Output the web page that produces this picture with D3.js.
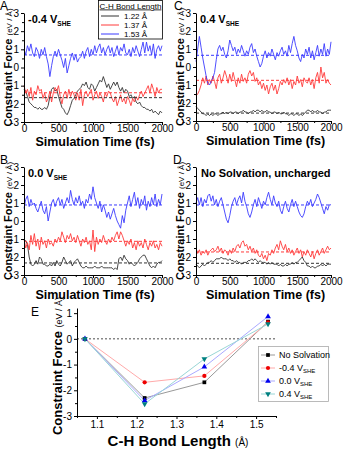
<!DOCTYPE html>
<html>
<head>
<meta charset="utf-8">
<script src="https://cdn.jsdelivr.net/npm/d3@7"></script>
<style>
  body { margin: 0; background: #fff; }
  svg { font-family: "Liberation Sans", Arial, sans-serif; }
</style>
</head>
<body>
<svg id="chart" width="344" height="450"></svg>
<script>
// constraint force vs time, sampled every 25 fs (0..2000), read off the figure
// panel A: -0.4 V_SHE
const A_122 = [-1.2, -1.3, -1.6, -1.9, -2.0, -2.1, -2.2, -2.2, -2.3, -2.2,
  -2.3, -2.3, -2.2, -2.3, -2.1, -1.6, -1.2, -1.1, -1.3, -1.2,
  -1.6, -1.9, -2.2, -2.3, -2.5, -2.6, -2.4, -2.1, -1.8, -1.7,
  -1.5, -1.3, -1.2, -1.1, -0.9, -1.0, -0.8, -1.1, -1.2, -0.9,
  -1.0, -1.3, -1.1, -0.9, -0.7, -0.8, -0.5, -0.8, -1.1, -0.9,
  -1.2, -1.0, -0.8, -1.0, -0.8, -1.1, -1.3, -1.1, -1.4, -1.2,
  -1.3, -1.6, -1.5, -1.7, -1.6, -1.9, -2.0, -1.9, -2.1, -2.2,
  -2.2, -2.3, -2.3, -2.4, -2.3, -2.5, -2.4, -2.5, -2.6, -2.4, -2.5];
const A_137 = [-1.0, -1.4, -1.2, -1.6, -1.1, -1.8, -1.3, -1.5, -1.0, -1.3,
  -1.2, -1.7, -1.4, -1.9, -1.7, -1.3, -1.9, -1.4, -1.1, -1.3,
  -1.0, -1.6, -2.0, -1.5, -1.3, -1.7, -1.2, -1.6, -1.3, -1.5,
  -1.8, -1.4, -1.8, -1.2, -2.1, -1.5, -1.3, -1.6, -1.4, -1.2,
  -1.8, -1.5, -1.3, -1.7, -1.4, -1.6, -1.9, -1.4, -1.6, -1.3,
  -1.4, -1.7, -1.9, -1.6, -2.1, -1.8, -1.5, -1.9, -1.7, -2.0,
  -1.6, -1.8, -2.1, -1.7, -1.9, -1.6, -1.8, -1.5, -1.3, -1.6,
  -1.4, -1.2, -1.0, -1.4, -0.9, -1.2, -1.6, -1.1, -1.4, -1.2, -1.2];
const A_153 = [1.0, 0.7, 1.2, 0.9, 1.3, 0.8, 0.6, 1.1, 0.9, 0.5,
  1.0, 0.7, 1.1, 0.6, 0.2, -0.5, 0.1, 0.6, 0.9, 0.6,
  1.0, 0.7, 0.4, 0.0, 0.5, -0.3, 0.1, 0.5, 0.8, 0.4,
  0.7, 0.3, 0.5, 0.6, 0.9, 0.5, 0.9, 1.1, 0.6, 1.0,
  0.7, 1.2, 0.8, 1.1, 1.3, 0.8, 1.1, 0.7, 1.0, 1.2,
  0.8, 1.1, 0.6, 0.9, 1.2, 0.7, 1.1, 0.9, 1.3, 0.8,
  0.7, 1.0, 0.6, 1.1, 0.8, 1.2, 0.9, 0.6, 1.0, 1.4,
  0.8, 1.4, 0.9, 1.2, 0.7, 1.3, 0.5, 1.0, 1.2, 0.9, 1.2];
const A_means = [-1.66, -1.39, 0.69];

// panel B: 0.0 V_SHE
const B_122 = [-1.0, -1.1, -1.3, -2.0, -2.4, -2.5, -2.4, -2.2, -2.4, -2.0,
  -2.1, -2.4, -2.4, -2.5, -2.5, -2.4, -2.5, -2.3, -2.5, -2.2,
  -2.4, -2.5, -2.3, -2.0, -2.2, -2.4, -2.3, -2.2, -2.5, -2.3,
  -2.2, -2.1, -2.3, -2.5, -2.6, -2.6, -2.5, -2.6, -2.6, -2.6,
  -2.6, -2.5, -2.6, -2.6, -2.6, -2.5, -2.6, -2.6, -2.6, -2.6,
  -2.6, -2.6, -2.7, -2.6, -2.7, -2.1, -2.0, -2.2, -1.9, -2.1,
  -2.2, -2.4, -2.3, -2.4, -2.5, -2.4, -2.3, -2.1, -2.0, -1.9,
  -1.9, -2.1, -2.3, -2.5, -2.6, -2.5, -2.6, -2.4, -2.3, -2.3, -2.2];
const B_137 = [-1.0, -1.5, -1.2, -1.6, -0.8, -1.3, -0.7, -1.4, -1.0, -1.6,
  -0.9, -1.3, -1.1, -1.5, -1.0, -1.3, -1.2, -1.4, -1.0, -1.2,
  -0.9, -1.1, -0.6, -0.9, -1.2, -0.8, -1.0, -0.7, -1.1, -0.9,
  -1.2, -0.8, -1.1, -1.4, -1.0, -1.2, -0.9, -1.3, -1.1, -1.6,
  -0.5, -1.7, -0.9, -1.3, -1.0, -1.2, -0.8, -1.1, -1.3, -1.0,
  -1.2, -0.9, -1.1, -0.8, -0.6, -1.0, -0.6, -0.8, -1.1, -1.4,
  -1.1, -1.3, -1.0, -1.5, -1.2, -1.6, -1.1, -1.4, -1.2, -1.5,
  -1.0, -1.3, -1.6, -1.2, -1.4, -1.1, -1.5, -1.3, -1.6, -1.2, -1.4];
const B_153 = [0.7, 1.2, 1.4, 0.8, 1.2, 0.9, 1.0, 0.7, 0.5, 0.8,
  1.1, 0.6, 0.4, 0.8, 0.0, 0.5, 1.0, 1.2, 0.8, 1.1,
  1.3, 0.9, 1.2, 0.7, 1.0, 1.3, 1.0, 1.7, 1.2, 0.9,
  1.3, 1.0, 1.4, 0.9, 1.1, 0.7, 1.2, 1.0, 1.5, 1.2,
  1.9, 1.3, 1.0, 0.7, 1.1, 0.5, 0.9, 0.6, 0.2, 0.5,
  0.1, 0.4, 0.7, 0.3, 0.0, -0.2, -0.4, 0.3, -0.1, 0.6,
  1.0, 1.4, 0.8, 1.2, 1.6, 0.9, 1.3, 0.7, 1.2, 0.9,
  1.4, 0.6, 1.1, 0.8, 1.3, 0.9, 1.5, 0.8, 1.2, 0.9, 1.5];
const B_means = [-2.33, -1.13, 0.89];

// panel C: 0.4 V_SHE
const C_122 = [-2.2, -2.3, -2.4, -2.5, -2.6, -2.6, -2.7, -2.6, -2.7, -2.6,
  -2.7, -2.6, -2.6, -2.7, -2.6, -2.6, -2.5, -2.6, -2.5, -2.6,
  -2.5, -2.5, -2.6, -2.5, -2.5, -2.6, -2.5, -2.5, -2.4, -2.5,
  -2.5, -2.6, -2.5, -2.5, -2.4, -2.5, -2.4, -2.4, -2.5, -2.4,
  -2.5, -2.5, -2.4, -2.5, -2.5, -2.6, -2.5, -2.5, -2.6, -2.5,
  -2.6, -2.6, -2.5, -2.6, -2.6, -2.7, -2.6, -2.6, -2.7, -2.6,
  -2.6, -2.7, -2.6, -2.7, -2.6, -2.5, -2.4, -2.4, -2.5, -2.4,
  -2.5, -2.5, -2.4, -2.5, -2.5, -2.6, -2.5, -2.5, -2.4, -2.4, -2.4];
const C_137 = [-1.6, -1.5, -1.3, -1.0, -0.6, -0.9, -0.5, -1.0, -0.7, -0.9,
  -0.5, -0.8, -1.2, -0.6, -0.4, -0.9, -0.6, -0.2, -0.5, -0.9,
  -0.4, -0.8, -0.3, -0.7, -1.1, -0.6, -0.9, -0.4, -0.8, -0.6,
  -0.9, -0.4, -0.2, -0.5, -0.3, -0.8, -0.6, -1.0, -0.8, -1.2,
  -0.9, -1.3, -1.0, -1.5, -1.1, -0.9, -1.3, -1.0, -1.5, -1.2,
  -0.8, -1.0, -0.7, -0.9, -0.6, -1.0, -0.7, -1.2, -0.8, -1.0,
  -0.5, -0.9, -0.7, -1.1, -0.6, -0.8, -0.9, -0.6, -1.0, -0.7,
  -1.2, -0.6, -0.3, -0.9, 0.0, -0.6, -0.3, -0.9, -0.7, -0.9, -1.0];
const C_153 = [0.3, 1.0, 1.7, 1.1, 0.5, 0.0, -0.5, -0.9, -1.0, -0.8,
  -0.6, -0.3, 0.4, 1.0, 1.2, 0.9, 1.1, 0.7, 0.5, 0.9,
  1.5, 1.2, 0.9, 1.1, 0.7, 1.0, 0.8, 1.2, 0.9, 0.6,
  0.9, 0.7, 1.1, 1.3, 0.8, 1.0, 0.6, 0.3, 0.0, 0.2,
  0.6, 0.9, 0.5, 0.8, 0.6, 1.0, 0.7, 0.4, 0.8, 0.6,
  0.9, 1.1, 0.7, 0.9, 0.6, 1.2, 0.8, 1.3, 1.7, 1.2,
  0.9, 0.5, 0.3, 0.7, 0.5, 1.0, 0.7, 1.1, 0.5, 0.9,
  0.4, 0.8, 1.2, 0.6, 1.0, 0.7, 1.3, 0.6, 1.0, 0.7, 1.4];
const C_means = [-2.56, -0.74, 0.65];

// panel D: no solvation, uncharged
const D_122 = [-2.4, -2.5, -2.6, -2.5, -2.4, -2.5, -2.4, -2.3, -2.3, -2.2,
  -2.3, -2.2, -2.1, -2.1, -2.1, -2.0, -2.1, -2.1, -2.1, -2.2,
  -2.1, -2.2, -2.2, -2.3, -2.2, -2.3, -2.3, -2.4, -2.3, -2.3,
  -2.3, -2.2, -2.2, -2.1, -2.2, -2.1, -2.2, -2.3, -2.2, -2.3,
  -2.3, -2.3, -2.4, -2.3, -2.4, -2.3, -2.4, -2.4, -2.4, -2.5,
  -2.4, -2.5, -2.5, -2.4, -2.5, -2.4, -2.4, -2.3, -2.4, -2.3,
  -2.3, -2.2, -2.1, -2.0, -2.2, -2.3, -2.5, -2.5, -2.6, -2.5,
  -2.6, -2.6, -2.5, -2.5, -2.4, -2.5, -2.4, -2.5, -2.4, -2.4, -2.4];
const D_137 = [-1.5, -1.8, -1.6, -1.9, -1.7, -1.8, -1.6, -1.9, -1.7, -1.6,
  -1.5, -1.7, -1.6, -1.4, -1.7, -1.5, -1.8, -1.6, -1.7, -1.9,
  -1.6, -1.8, -1.5, -1.7, -1.4, -1.3, -1.5, -1.2, -1.1, -1.4,
  -1.3, -1.6, -1.4, -1.7, -1.5, -1.8, -1.6, -1.9, -2.0, -1.8,
  -2.1, -1.9, -2.2, -1.8, -1.9, -1.6, -1.8, -1.5, -1.3, -1.6,
  -1.1, -1.4, -1.6, -1.3, -1.7, -1.5, -1.8, -1.6, -1.9, -1.7,
  -1.5, -1.8, -1.6, -2.0, -1.7, -1.9, -1.6, -1.8, -2.0, -1.7,
  -2.1, -1.8, -1.6, -1.9, -1.7, -1.5, -1.8, -1.6, -1.4, -1.6, -1.5];
const D_153 = [1.0, 1.3, 0.9, 1.3, 0.8, 1.2, 1.0, 1.4, 1.5, 1.1,
  1.4, 0.9, 1.2, 0.8, 1.1, 1.3, 0.9, 0.5, 0.1, -0.1,
  0.3, 0.8, 1.1, 1.3, 0.9, 1.2, 1.4, 1.0, 1.6, 1.1,
  0.8, 0.4, 0.2, 0.5, 0.9, 1.2, 0.8, 1.3, 1.0, 0.7,
  1.1, 0.9, 1.3, 1.6, 1.2, 0.9, 1.4, 1.0, 0.8, 1.1,
  0.6, 0.4, 0.8, 1.1, 0.7, 0.5, 0.9, 1.2, 0.8, 1.1,
  0.8, 0.5, 0.3, 0.2, 0.4, 0.8, 1.1, 0.9, 1.2, 0.8,
  1.0, 1.2, 1.5, 1.3, 1.0, 0.7, 0.4, 0.8, 0.6, 0.9, 0.9];
const D_means = [-2.35, -1.72, 0.89];

const timeTicks = [0, 500, 1000, 1500, 2000];
const forceTicks = [-3, -2, -1, 0, 1, 2, 3];
const bondLabels = ["1.22 \u00c5", "1.37 \u00c5", "1.53 \u00c5"];

// panel E: average constraint force vs bond length
const bondLengths = [1.07, 1.22, 1.37, 1.53];
const noSolv = [0, -2.30, -1.69, 0.67];
const vNeg04 = [0, -1.69, -1.44, 0.64];
const v00 = [0, -2.40, -1.09, 0.87];
const v04 = [0, -2.53, -0.78, 0.58];
const bondTicks = [1.1, 1.2, 1.3, 1.4, 1.5];
const eForceTicks = [-3, -2, -1, 0, 1];

const seriesColors = ["#333333", "#ff3b3b", "#3b3bff"];

const svg = d3.select("#chart");

function addTitleY(x, y, big, small) {
    let t = svg.append("text")
        .attr("transform", "translate(" + x + "," + y + ") rotate(-90)")
        .attr("text-anchor", "middle");
    t.append("tspan").attr("font-weight", "bold").attr("font-size", big).text("Constraint Force ");
    t.append("tspan").attr("font-size", small).text("(eV / \u00c5)");
}

function addVshe(x, y, v, size) {
    let t = svg.append("text").attr("x", x).attr("y", y)
        .attr("font-weight", "bold").attr("font-size", size);
    t.append("tspan").text(v + " V");
    t.append("tspan").attr("font-size", size * 0.6).attr("dy", size * 0.25).text("SHE");
}

function styleAxis(g) {
    g.attr("font-family", null).attr("font-size", 10);
    g.selectAll("path, line").attr("stroke", "#000").attr("stroke-width", 1);
    g.selectAll("text").attr("fill", "#000");
}

// minor ticks only: no labels at all
function minorTicks(g) {
    g.selectAll("text").remove();
    g.select(".domain").remove();
}

function timePanel(p) {
    let x = d3.scaleLinear().domain([0, 2000]).range([p.left, p.right]);
    let y = d3.scaleLinear().domain([-3, 3]).range([p.bottom, p.top]);

    let line = d3.line()
        .x((d, i, arr) => x(i * 2000 / (arr.length - 1)))
        .y(d => y(d));

    p.series.forEach((s, k) => {
        svg.append("path").datum(s)
            .attr("d", line)
            .attr("fill", "none")
            .attr("stroke", seriesColors[k])
            .attr("stroke-width", 0.9)
            .attr("stroke-linejoin", "round");
    });

    // time-averaged force
    p.means.forEach((m, k) => {
        svg.append("line")
            .attr("x1", x(0)).attr("x2", x(2000))
            .attr("y1", y(m)).attr("y2", y(m))
            .attr("stroke", seriesColors[k])
            .attr("stroke-width", 1)
            .attr("stroke-dasharray", "3,2");
    });

    let minorX = d3.range(250, 2000, 500);
    let minorY = d3.range(-2.5, 3, 1);

    svg.append("g").attr("transform", "translate(0," + p.bottom + ")")
        .call(d3.axisBottom(x).tickValues(minorX).tickSize(2).tickSizeOuter(0))
        .call(styleAxis).call(minorTicks);
    svg.append("g").attr("transform", "translate(0," + p.bottom + ")")
        .call(d3.axisBottom(x).tickValues(timeTicks).tickSize(3).tickSizeOuter(0).tickPadding(0).tickFormat(d => String(d)))
        .call(styleAxis);
    svg.append("g").attr("transform", "translate(" + p.left + ",0)")
        .call(d3.axisLeft(y).tickValues(minorY).tickSize(2).tickSizeOuter(0))
        .call(styleAxis).call(minorTicks);
    svg.append("g").attr("transform", "translate(" + p.left + ",0)")
        .call(d3.axisLeft(y).tickValues(forceTicks).tickSize(3).tickSizeOuter(0).tickPadding(2).tickFormat(d => String(d)))
        .call(styleAxis);

    svg.append("text").attr("x", (p.left + p.right) / 2 + 2).attr("y", p.bottom + 24)
        .attr("text-anchor", "middle").attr("font-weight", "bold").attr("font-size", 12.5)
        .text("Simulation Time (fs)");
    addTitleY(p.left - 12, (p.top + p.bottom) / 2, 11, 8);

    svg.append("text").attr("x", p.letterX).attr("y", p.top - 3)
        .attr("font-size", 12).text(p.letter);

    if (p.v !== null) {
        addVshe(p.left + 4, p.top + 10, p.v, 11);
    } else {
        svg.append("text").attr("x", p.left + 5).attr("y", p.top + 10)
            .attr("font-weight", "bold").attr("font-size", 11)
            .text("No Solvation, uncharged");
    }
}

timePanel({ left: 24, right: 162, top: 13, bottom: 122, letter: "A", letterX: 0, v: "-0.4",
    series: [A_122, A_137, A_153], means: A_means });
timePanel({ left: 196, right: 331, top: 13, bottom: 121, letter: "C", letterX: 174, v: "0.4",
    series: [C_122, C_137, C_153], means: C_means });
timePanel({ left: 24, right: 162, top: 167, bottom: 275, letter: "B", letterX: 0, v: "0.0",
    series: [B_122, B_137, B_153], means: B_means });
timePanel({ left: 196, right: 331, top: 167, bottom: 275, letter: "D", letterX: 173, v: null,
    series: [D_122, D_137, D_153], means: D_means });

// legend of panel A
let lg = svg.append("g");
lg.append("rect").attr("x", 98.5).attr("y", 0.5).attr("width", 64).attr("height", 38.5)
    .attr("fill", "#fff").attr("stroke", "#000").attr("stroke-width", 0.8);
lg.append("text").attr("x", 130.5).attr("y", 8.5).attr("text-anchor", "middle")
    .attr("font-size", 8).attr("text-decoration", "underline").text("C-H Bond Length");
bondLabels.forEach((b, i) => {
    let yy = 16 + i * 9;
    lg.append("line").attr("x1", 101).attr("x2", 119).attr("y1", yy).attr("y2", yy)
        .attr("stroke", seriesColors[i]).attr("stroke-width", 1);
    lg.append("text").attr("x", 124).attr("y", yy + 3).attr("font-size", 8).text(b);
});

// panel E
const ex = d3.scaleLinear().domain([1.05, 1.55]).range([77, 276]);
const ey = d3.scaleLinear().domain([-3, 1.2]).range([416, 308]);

svg.append("line").attr("x1", ex(1.05)).attr("x2", ex(1.55)).attr("y1", ey(0)).attr("y2", ey(0))
    .attr("stroke", "#888").attr("stroke-width", 1.5).attr("stroke-dasharray", "2,2");

const eSeries = [
    { name: "No Solvation", v: null, vals: noSolv, color: "#000000", line: "#999999", shape: d3.symbolSquare, size: 14, rot: 0 },
    { name: "-0.4", v: "-0.4", vals: vNeg04, color: "#ee0000", line: "#ffaaaa", shape: d3.symbolCircle, size: 14, rot: 0 },
    { name: "0.0", v: "0.0", vals: v00, color: "#0000ee", line: "#aaaaff", shape: d3.symbolTriangle, size: 14, rot: 0 },
    { name: "0.4", v: "0.4", vals: v04, color: "#008080", line: "#99d6d6", shape: d3.symbolTriangle, size: 14, rot: 180 }
];

const eLine = d3.line().x((d, i) => ex(bondLengths[i])).y(d => ey(d));

eSeries.forEach(s => {
    svg.append("path").datum(s.vals).attr("d", eLine)
        .attr("fill", "none").attr("stroke", s.line).attr("stroke-width", 1);
});
eSeries.forEach(s => {
    svg.selectAll(null).data(s.vals).enter().append("path")
        .attr("d", d3.symbol().type(s.shape).size(s.size))
        .attr("transform", (d, i) => "translate(" + ex(bondLengths[i]) + "," + ey(d) + ") rotate(" + s.rot + ")")
        .attr("fill", s.color);
});

svg.append("g").attr("transform", "translate(0,416)")
    .call(d3.axisBottom(ex).tickValues(d3.range(1.05, 1.56, 0.1)).tickSize(2).tickSizeOuter(0))
    .call(styleAxis).call(minorTicks);
svg.append("g").attr("transform", "translate(0,416)")
    .call(d3.axisBottom(ex).tickValues(bondTicks).tickSize(3).tickSizeOuter(0).tickPadding(2).tickFormat(d3.format(".1f")))
    .call(styleAxis);
svg.append("g").attr("transform", "translate(77,0)")
    .call(d3.axisLeft(ey).tickValues([-2.5, -1.5, -0.5, 0.5]).tickSize(2).tickSizeOuter(0))
    .call(styleAxis).call(minorTicks);
svg.append("g").attr("transform", "translate(77,0)")
    .call(d3.axisLeft(ey).tickValues(eForceTicks).tickSize(3).tickSizeOuter(0).tickPadding(2).tickFormat(d => String(d)))
    .call(styleAxis);

svg.append("text").attr("x", 31).attr("y", 316).attr("font-size", 12).text("E");
addTitleY(62, 366, 13, 9);

let bx = svg.append("text").attr("x", 178).attr("y", 446).attr("text-anchor", "middle");
bx.append("tspan").attr("font-weight", "bold").attr("font-size", 15).text("C-H Bond Length ");
bx.append("tspan").attr("font-size", 10).text("(\u00c5)");

// legend of panel E
let le = svg.append("g");
le.append("rect").attr("x", 258.5).attr("y", 346.5).attr("width", 70).attr("height", 55)
    .attr("fill", "#fff").attr("stroke", "#aaa").attr("stroke-width", 0.8);
eSeries.forEach((s, i) => {
    let yy = 355 + i * 13;
    le.append("line").attr("x1", 261).attr("x2", 275).attr("y1", yy).attr("y2", yy)
        .attr("stroke", s.line).attr("stroke-width", 1);
    le.append("path").attr("d", d3.symbol().type(s.shape).size(s.size)())
        .attr("transform", "translate(268," + yy + ") rotate(" + s.rot + ")").attr("fill", s.color);
    let t = le.append("text").attr("x", 279).attr("y", yy + 3).attr("font-size", 9);
    if (s.v === null) {
        t.text(s.name);
    } else {
        t.append("tspan").text(s.v + " V");
        t.append("tspan").attr("font-size", 6).attr("dy", 2).text("SHE");
    }
});
</script>
</body>
</html>
